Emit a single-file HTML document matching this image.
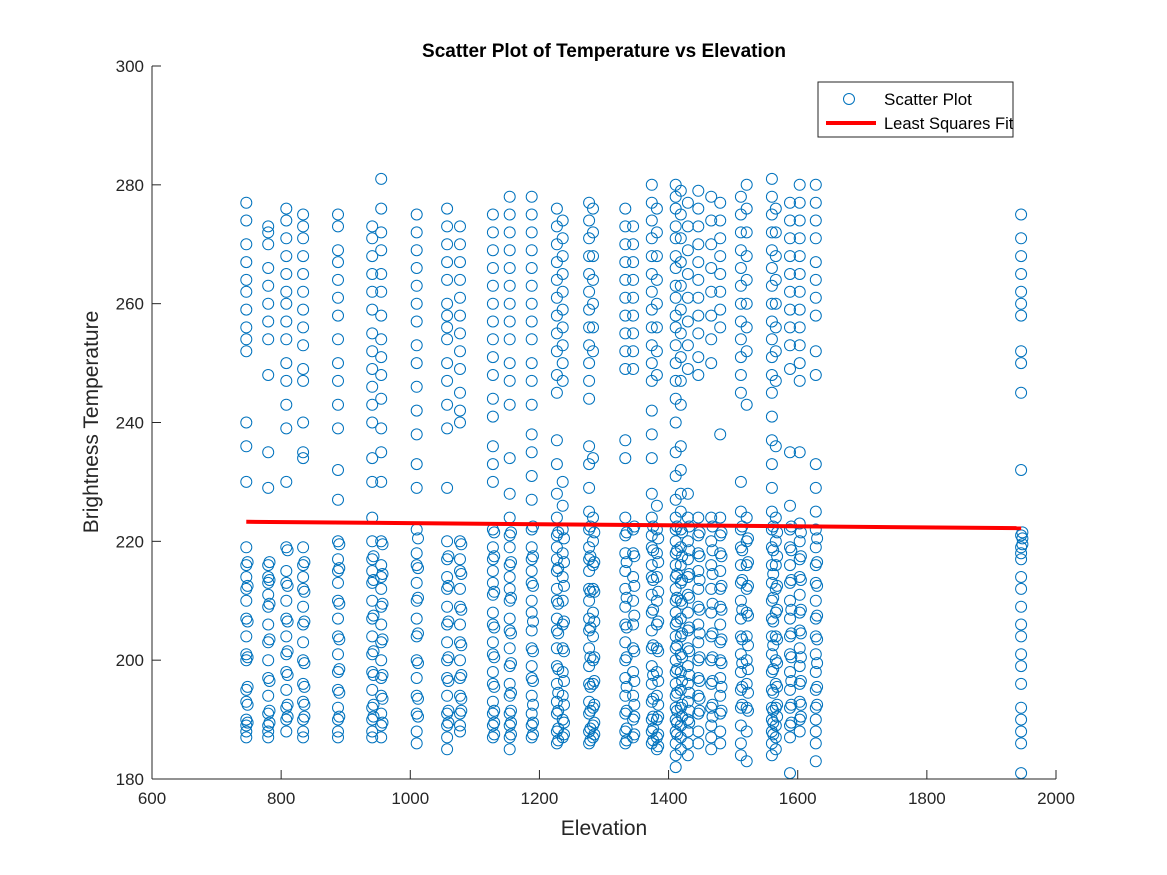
<!DOCTYPE html>
<html><head><meta charset="utf-8"><style>
html,body{margin:0;padding:0;background:#fff;}
svg{display:block;font-family:"Liberation Sans",Arial,sans-serif;}
</style></head><body>
<svg id="chart" width="1167" height="875" viewBox="0 0 1167 875" xmlns="http://www.w3.org/2000/svg">
<rect width="1167" height="875" fill="#fff"/>
<text x="604" y="57" text-anchor="middle" font-size="19" font-weight="bold" fill="#000">Scatter Plot of Temperature vs Elevation</text>
<g id="points"></g>
<g id="fit"></g>
<g id="axes"></g>
<text x="604" y="835" text-anchor="middle" font-size="21" fill="#262626">Elevation</text>
<text x="98" y="422" text-anchor="middle" font-size="21" fill="#262626" transform="rotate(-90 98 422)">Brightness Temperature</text>
<g>
<rect x="818" y="82" width="195" height="55" fill="#fff" stroke="#262626" stroke-width="1"/>
<circle cx="849" cy="99" r="5.5" fill="none" stroke="#0072BD" stroke-width="1"/>
<text x="884" y="105" font-size="17" fill="#000">Scatter Plot</text>
<line x1="826" y1="123" x2="876" y2="123" stroke="#FF0000" stroke-width="4"/>
<text x="884" y="129" font-size="16.5" fill="#000">Least Squares Fit</text>
</g>
</svg>
<script>
const elevations = [746,780,808,834,888,941,955,1010,1057,1077,1128,1154,1188,1227,1236,1277,1283,1333,1345,1374,1382,1411,1419,1430,1446,1466,1480,1512,1521,1560,1566,1588,1603,1628,1946];
const temperatures = [
[277,274,270,267,264,262,259,256,254,252,240,236,230,219,216,214,212,210,207,204,201,200,195,193,190,189,188,187],
[273,272,270,266,263,260,257,254,248,235,229,216,214,213,211,209,206,203,200,197,194,191,189,188,187],
[276,274,271,268,265,262,260,257,254,250,247,243,239,230,219,215,213,210,207,204,201,198,195,192,190,188],
[275,273,271,268,265,262,259,256,253,249,247,240,235,234,219,216,214,212,209,206,203,200,196,193,190,188,187],
[275,273,269,267,264,261,258,254,250,247,243,239,232,227,220,217,215,213,210,207,204,201,198,195,192,190,188,187],
[273,271,268,265,262,259,255,252,249,246,243,240,234,230,224,220,217,215,213,210,207,204,201,198,195,192,190,188,187],
[281,276,272,269,265,262,258,254,251,248,244,239,235,230,220,216,214,212,209,206,203,200,197,194,191,189,187],
[275,272,269,266,263,260,257,253,250,246,242,238,233,229,222,218,216,213,210,207,204,200,197,194,191,188,186],
[276,273,270,267,264,260,258,256,254,250,247,243,239,229,220,217,214,212,209,206,203,200,197,194,191,189,187,185],
[273,270,267,264,261,258,255,252,249,245,242,240,220,217,215,212,209,206,203,200,197,194,191,189,188],
[275,272,269,266,263,260,257,254,251,248,244,241,236,233,230,222,219,217,215,213,211,208,206,203,201,198,196,193,191,189,187],
[278,275,272,269,266,263,260,257,254,250,247,243,234,228,224,221,219,216,214,212,210,207,205,202,199,196,194,191,189,187,185],
[278,275,272,269,266,263,260,257,254,250,247,243,238,235,231,227,222,219,217,215,213,210,208,205,202,199,197,194,191,189,187],
[276,273,270,267,264,261,258,255,252,248,245,237,233,228,224,221,219,217,215,212,210,207,205,202,199,196,193,191,188,186],
[274,271,268,265,262,259,256,253,250,247,230,226,222,218,214,210,206,202,198,194,190,187],
[277,274,271,268,265,262,259,256,253,250,247,244,236,233,229,225,222,219,217,215,212,210,207,205,202,199,196,193,191,188,186],
[276,272,268,264,260,256,252,234,224,220,216,212,208,204,200,196,192,189,187],
[276,273,270,267,264,261,258,255,252,249,237,234,224,221,218,215,212,209,206,203,200,197,194,191,188,186],
[273,270,267,264,261,258,255,252,249,222,218,214,210,206,202,198,194,190,187],
[280,277,274,271,268,265,262,259,256,253,250,247,242,238,234,228,224,221,219,216,214,211,208,205,202,199,196,193,190,188,186],
[276,272,268,264,260,256,252,248,226,222,218,214,210,206,202,198,194,190,187,185],
[280,278,276,273,271,268,266,263,261,258,256,253,250,247,244,240,235,231,227,224,222,220,218,216,214,212,210,208,206,204,202,200,198,196,194,192,190,188,186,184,182],
[279,275,271,267,263,259,255,251,247,243,236,232,228,225,222,219,216,213,210,207,204,201,198,195,192,189,187,185],
[277,273,269,265,261,257,253,249,228,224,220,217,214,211,208,205,202,199,196,193,190,188,186,184],
[279,276,273,270,267,264,261,258,255,251,248,224,221,218,215,212,209,206,203,200,197,194,191,188,186],
[278,274,270,266,262,258,254,250,224,220,216,212,208,204,200,196,192,189,187,185],
[277,274,271,268,265,262,259,256,238,224,221,218,215,212,209,206,203,200,197,194,191,188,186],
[278,275,272,269,266,263,260,257,254,251,248,245,230,225,222,219,216,213,210,207,204,201,198,195,192,189,186,184],
[280,276,272,268,264,260,256,252,243,224,220,216,212,208,204,200,196,192,188,183],
[281,278,275,272,269,266,263,260,257,254,251,248,245,241,237,233,229,225,222,219,216,213,210,207,204,201,198,195,192,190,188,186,184],
[276,272,268,264,260,256,252,247,236,224,220,216,212,208,204,200,196,192,189,187,185],
[277,274,271,268,265,262,259,256,253,249,235,226,222,219,216,213,210,207,204,201,198,195,192,189,187,181],
[280,277,274,271,268,265,262,259,256,253,250,247,235,223,220,217,214,211,208,205,202,199,196,193,190,188],
[280,277,274,271,267,264,261,258,252,248,233,229,225,222,219,216,213,210,207,204,201,198,195,192,190,188,186,183],
[275,271,268,265,262,260,258,252,250,245,232,221,219,218,217,214,212,209,206,204,201,199,196,192,190,188,186,181]
];
const lowerClusterTemps = [
[215,211,205,199,194,191,188],
[215,212,208,202,195,190,188],
[217,211,205,200,196,191,189],
[215,210,205,198,194,191,189],
[218,214,208,202,197,193,189],
[216,212,206,200,196,191,189],
[218,213,208,202,196,192,188],
[219,214,209,203,198,192,189],
[216,211,205,199,195,190,188],
[218,213,207,201,196,192,190],
[220,216,210,204,199,194,190,188,186],
[220,215,209,203,198,193,190,188,186],
[221,216,211,205,200,195,191,188,186],
[220,214,208,203,197,193,190,187,185],
[219,215,211,205,200,195,191,188,186],
[221,216,210,204,199,194,190,187,185],
[220,215,210,205,199,195,191,188,186],
[220,215,209,204,199,194,190,187,185],
[221,216,211,206,200,195,191,189,186],
[221,217,212,207,201,196,192,189,187,185],
[219,215,210,205,200,195,191,189,186,184],
[221,217,213,209,205,201,197,193,190,188,186],
[220,216,212,208,203,199,195,191,189],
[221,217,213,209,204,200,196,193,190,188],
[220,216,212,207,203,199,195,192,190],
[221,217,213,208,203,199,195,191,189],
[220,216,211,207,202,198,194,190],
[221,217,212,207,202,198,194,191],
[219,215,211,206,201,197,193,190],
[221,217,213,209,205,201,197,193,190,188,186],
[220,216,211,207,202,198,194,191,189],
[221,217,212,207,203,199,195,191,188],
[220,216,212,207,203,199,195,191,189],
[219,215,211,206,202,198,194,191],
[220,219,218]
];
const xTicks = [600,800,1000,1200,1400,1600,1800,2000];
const yTicks = [180,200,220,240,260,280,300];

const NS = "http://www.w3.org/2000/svg";
const X0=152, X1=1056, Y0=779, Y1=66;
function xs(v){return X0+(v-600)/(2000-600)*(X1-X0);}
function ys(v){return Y0-(v-180)/(300-180)*(Y0-Y1);}
function mk(tag,attrs,parent){const e=document.createElementNS(NS,tag);for(const k in attrs)e.setAttribute(k,attrs[k]);parent.appendChild(e);return e;}

const pg=document.getElementById('points');
let n=0,sx=0,sy=0,sxx=0,sxy=0;
function addPoint(ev,t){
  const c=mk('circle',{cx:xs(ev).toFixed(1),cy:ys(t).toFixed(1),r:5.5,fill:'none',stroke:'#0072BD','stroke-width':1},pg);
  
  
  n++;sx+=ev;sy+=t;sxx+=ev*ev;sxy+=ev*t;
}
elevations.forEach((ev,i)=>{
  temperatures[i].forEach(t=>addPoint(ev,t));
  (lowerClusterTemps[i]||[]).forEach(t=>addPoint(ev+2,t+1.5));
});
const slope=(n*sxy-sx*sy)/(n*sxx-sx*sx);
const icpt=(sy-slope*sx)/n;
const emin=Math.min(...elevations), emax=Math.max(...elevations);
const fl=mk('line',{x1:xs(emin),y1:ys(icpt+slope*emin),x2:xs(emax),y2:ys(icpt+slope*emax),stroke:'#FF0000','stroke-width':4},document.getElementById('fit'));



const ax=document.getElementById('axes');
const xl=mk('line',{x1:X0,y1:Y0,x2:X1,y2:Y0,stroke:'#262626','stroke-width':1},ax);


const yl=mk('line',{x1:X0,y1:Y0,x2:X0,y2:Y1,stroke:'#262626','stroke-width':1},ax);


xTicks.forEach(v=>{
  const x=xs(v);
  mk('line',{x1:x,y1:Y0,x2:x,y2:Y0-9,stroke:'#262626','stroke-width':1},ax);
  const t=mk('text',{x:x,y:Y0+25,'text-anchor':'middle','font-size':17,fill:'#262626'},ax);
  t.textContent=v;
  
  
});
yTicks.forEach(v=>{
  const y=ys(v);
  mk('line',{x1:X0,y1:y,x2:X0+9,y2:y,stroke:'#262626','stroke-width':1},ax);
  const t=mk('text',{x:X0-8,y:y+6,'text-anchor':'end','font-size':17,fill:'#262626'},ax);
  t.textContent=v;
  
  
});
</script>
</body></html>
